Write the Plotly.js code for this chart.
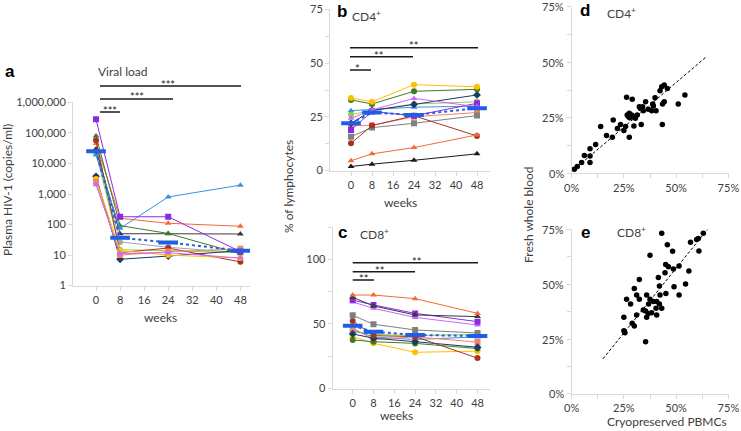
<!DOCTYPE html>
<html><head><meta charset="utf-8">
<script src="https://cdn.plot.ly/plotly-3.0.1.min.js"></script>
<style>html,body{margin:0;padding:0;background:#fff;overflow:hidden;} #chart{width:741px;height:431px;}</style>
</head><body><div id="chart"></div>
<script>
// ---------- DATA ----------
const weeks = [0, 8, 24, 48];
const weekTicks = [0, 8, 16, 24, 32, 40, 48];
const vlTickVals = [1, 10, 100, 1000, 10000, 100000, 1000000];
const vlTickText = ["1", "10", "100", "1,000", "10,000", "100,000", "1,000,000"];
const pctTicks = [0, 25, 50, 75];
const pctTickText = ["0%", "25%", "50%", "75%"];
const cd4Ticks = [0, 25, 50, 75];
const cd8Ticks = [0, 50, 100];

// Panel a: plasma HIV-1 (copies/ml)
const aPurple    = [280000, 180, 180, 13];
const aGreen     = [79000, 92, 51, 11];
const aDarkRed   = [58000, 12, 17, 6];
const aOrange    = [45000, 160, 110, 88];
const aBlack     = [30000, 50, 50, 49];
const aGray      = [26000, 27, 18, 12];
const aLime      = [22000, 15, 14, 12];
const aLightBlue = [19000, 75, 800, 1950];
const aNavy      = [3800, 7.3, 9.3, 14];
const aGold      = [3100, 14, 10, 8];
const aSalmon    = [2500, 10, 13, 16];
const aOrchid    = [2000, 11, 12, 8];
const aMedian    = [25000, 37, 26, 14];

// Panel b: CD4+ % of lymphocytes
const bGold      = [33.8, 32, 40, 39];
const bGreen     = [32.9, 31, 36.9, 37.8];
const bLightBlue = [27.9, 28.5, 29.5, 30];
const bLime      = [26, 28, 31, 32];
const bOrchid    = [24.3, 28.2, 33.6, 29.7];
const bNavy      = [22, 28, 30.8, 35.2];
const bSalmon    = [21, 21, 25.1, 27];
const bPurple    = [18.9, 27.5, 25.5, 31.3];
const bGray      = [15.8, 20, 22, 25.6];
const bDarkRed   = [12.7, 21, 25.5, 16.1];
const bOrange    = [4.6, 7.8, 10.7, 16.6];
const bBlack     = [1.9, 3, 4.8, 7.8];
const bMedian    = [22, 27, 25.9, 29];

// Panel c: CD8+ % of lymphocytes
const cOrange    = [72.4, 72.4, 69.6, 58.2];
const cBlack     = [70.6, 64, 57, 55.7];
const cPurple    = [68.5, 64.7, 58.2, 51.8];
const cOrchid    = [67, 62.1, 55.1, 49.2];
const cGray      = [56.7, 49.8, 45.4, 43];
const cDarkRed   = [52.3, 41, 40.2, 23.6];
const cSalmon    = [47, 38, 40, 36];
const cLightBlue = [45.4, 40, 38, 40];
const cLime      = [44, 42, 41, 42];
const cNavy      = [42.3, 39, 36.3, 32];
const cGold      = [40.2, 35.1, 28.1, 29];
const cGreen     = [37.6, 36.3, 35, 31];
const cMedian    = [48.7, 44, 41.5, 40.7];

// Panel d: CD4+ cryopreserved PBMCs (x) vs fresh whole blood (y), %
const dX = [1.3, 2.7, 4.8, 6.1, 8.8, 8.8, 8.8, 11.5, 13.9, 16.7, 19.5, 19.9, 21.9, 23.4, 25, 25.8, 26.3, 26.6, 27.1, 27.6, 27.6, 28.7, 29, 29.8, 29.8, 31.4, 32.4, 33, 33.3, 34, 34.3, 35.4, 36.7, 38.3, 38.8, 39.1, 39.9, 40.4, 42.3, 43.1, 43.5, 43.4, 44.3, 44.3, 45.8, 51, 54.2, 27.8, 32.8, 30.5];
const dY = [1.8, 3, 4.8, 8, 7.8, 11, 4.8, 12.9, 21, 17, 16.2, 24, 20.1, 21.9, 19.2, 21, 34.2, 26.2, 25.5, 27, 16.2, 26.2, 33.3, 25.5, 21.3, 26.2, 30, 29.2, 22, 30, 28.2, 32.2, 28.8, 28.2, 31.2, 30.3, 34, 28.2, 37.2, 39, 31.2, 22, 39.7, 32.2, 38.2, 31.2, 35.2, 25, 29.5, 24.8];
const dFitX = [1, 64.5];
const dFitY = [1.5, 52.5];

// Panel e: CD8+ cryopreserved PBMCs (x) vs fresh whole blood (y), %
const eX = [43.1, 45.8, 48.3, 37.5, 56.9, 59.8, 60.6, 63, 60.9, 45, 46.3, 48.7, 51.4, 56.1, 44.7, 41.5, 32.4, 42, 30, 49, 54.5, 51.4, 45.1, 42.3, 35.9, 31.1, 26.3, 32.4, 37.5, 28.2, 39.1, 40.7, 42, 36.8, 40.4, 43.1, 34.3, 35.4, 36.7, 38.3, 31.1, 40.7, 25, 35.9, 29, 30, 25, 25.5, 35.4];
const eY = [73.2, 68, 65, 63.2, 69.1, 70.4, 70.9, 73.2, 65.1, 59, 58, 57, 58.3, 56, 55.2, 53.1, 52.2, 49.2, 48.1, 48.9, 50.1, 45.1, 45.8, 45.1, 45.1, 45.1, 43.1, 43.1, 43.1, 41, 42.1, 42.1, 41, 41, 39, 39, 38.3, 37.8, 36.7, 37, 36, 36, 34.9, 34.9, 32.2, 31, 28.8, 27.9, 23.8];
const eFitX = [15, 65];
const eFitY = [16, 75];

// ---------- STYLE / LAYOUT HELPERS ----------
const W = 741, H = 431;
const PX = v => v / W;
const PY = v => 1 - v / H;
const FONT = "Lato, 'Open Sans', sans-serif";
const TXT = "#404040";
const AX = "#D9D9D9";

const C = {
  purple: "#8A2BE2", green: "#3A7D22", darkred: "#A93226", orange: "#F26B38",
  black: "#3A3A3A", gray: "#808080", lime: "#92D050", lightblue: "#3D8FE0",
  navy: "#1F3864", gold: "#FFC000", salmon: "#F4846E", orchid: "#CC66FF",
  median: "#1F5FE6"
};

function series(xa, ya, y, color, symbol, size) {
  return {
    type: "scatter", mode: "lines+markers", x: weeks, y: y, xaxis: xa, yaxis: ya,
    line: {color: color, width: 1}, marker: {color: color, symbol: symbol, size: size || 6},
    showlegend: false, hoverinfo: "skip"
  };
}
function median(xa, ya, y) {
  return {
    type: "scatter", mode: "lines+markers", x: weeks, y: y, xaxis: xa, yaxis: ya,
    line: {color: C.median, width: 2, dash: "dot"},
    marker: {symbol: "line-ew", size: 14, line: {color: C.median, width: 4}},
    showlegend: false, hoverinfo: "skip"
  };
}

const traces = [];
// a
[[aOrange, C.orange, "triangle-up"], [aGray, "#A6A6A6", "circle"], [aLime, C.lime, "circle"],
 [aBlack, C.black, "triangle-up"], [aGreen, C.green, "triangle-up"], [aDarkRed, C.darkred, "circle"],
 [aNavy, C.navy, "diamond"], [aGold, C.gold, "circle"], [aSalmon, C.salmon, "square"],
 [aOrchid, C.orchid, "triangle-up"], [aLightBlue, C.lightblue, "triangle-up"], [aPurple, C.purple, "square"]
].forEach(s => traces.push(series("x", "y", s[0], s[1], s[2])));
traces.push(median("x", "y", aMedian));
// b
[[bLime, C.lime, "circle"], [bLightBlue, C.lightblue, "triangle-up"], [bSalmon, C.salmon, "square"],
 [bGray, C.gray, "square"], [bDarkRed, C.darkred, "circle"], [bOrange, C.orange, "triangle-up"],
 [bBlack, "#1A1A1A", "triangle-up"], [bNavy, C.navy, "diamond"], [bPurple, C.purple, "square"],
 [bOrchid, C.orchid, "triangle-up"], [bGreen, C.green, "circle"], [bGold, C.gold, "circle"]
].forEach(s => traces.push(series("x2", "y2", s[0], s[1], s[2])));
traces.push(median("x2", "y2", bMedian));
// c
[[cLime, C.lime, "circle"], [cLightBlue, C.lightblue, "triangle-up"], [cSalmon, C.salmon, "square"],
 [cGold, C.gold, "circle"], [cGreen, C.green, "circle"], [cNavy, C.navy, "diamond"],
 [cDarkRed, C.darkred, "circle"], [cGray, C.gray, "square"], [cOrchid, C.orchid, "triangle-up"],
 [cPurple, C.purple, "square"], [cBlack, C.black, "triangle-up"], [cOrange, C.orange, "triangle-up"]
].forEach(s => traces.push(series("x3", "y3", s[0], s[1], s[2])));
traces.push(median("x3", "y3", cMedian));
// d, e
traces.push({type: "scatter", mode: "lines", x: dFitX, y: dFitY, xaxis: "x4", yaxis: "y4",
  line: {color: "#000", width: 1, dash: "3px,2px"}, showlegend: false, hoverinfo: "skip"});
traces.push({type: "scatter", mode: "markers", x: dX, y: dY, xaxis: "x4", yaxis: "y4",
  marker: {color: "#000", size: 5.5}, showlegend: false, hoverinfo: "skip"});
traces.push({type: "scatter", mode: "lines", x: eFitX, y: eFitY, xaxis: "x5", yaxis: "y5",
  line: {color: "#000", width: 1, dash: "3px,2px"}, showlegend: false, hoverinfo: "skip"});
traces.push({type: "scatter", mode: "markers", x: eX, y: eY, xaxis: "x5", yaxis: "y5",
  marker: {color: "#000", size: 5.5}, showlegend: false, hoverinfo: "skip"});

function axis(extra) {
  return Object.assign({
    showline: true, linecolor: AX, linewidth: 1, showgrid: false, zeroline: false,
    ticks: "outside", tickcolor: AX, ticklen: 4, tickfont: {family: FONT, size: 11, color: TXT},
    ticklabeloverflow: "allow", fixedrange: true
  }, extra);
}
const pctMinor = {dtick: 12.5, ticks: "outside", ticklen: 4, tickcolor: AX};

const layout = {
  width: W, height: H, margin: {l: 0, r: 0, t: 0, b: 0},
  paper_bgcolor: "#fff", plot_bgcolor: "rgba(0,0,0,0)", showlegend: false,
  font: {family: FONT, color: TXT},
  xaxis:  axis({domain: [PX(73), PX(250)], range: [-7.65, 51.2], anchor: "y", tickvals: weekTicks}),
  yaxis:  axis({domain: [PY(285.7), PY(102.3)], type: "log", range: [-0.002, 6.002], anchor: "x",
                tickvals: vlTickVals, ticktext: vlTickText}),
  xaxis2: axis({domain: [PX(330), PX(490)], range: [-8, 52.95], anchor: "y2", tickvals: weekTicks}),
  yaxis2: axis({domain: [PY(170.7), PY(9.3)], range: [-0.05, 75.05], anchor: "x2", tickvals: cd4Ticks,
                minor: pctMinor}),
  xaxis3: axis({domain: [PX(332.7), PX(490)], range: [-7.69, 52.8], anchor: "y3", tickvals: weekTicks}),
  yaxis3: axis({domain: [PY(388.7), PY(227)], range: [-0.05, 125], anchor: "x3", tickvals: cd8Ticks,
                minor: {dtick: 25, ticks: "outside", ticklen: 4, tickcolor: AX}}),
  xaxis4: axis({domain: [PX(571.5), PX(728.5)], range: [-0.05, 75.05], anchor: "y4", tickvals: pctTicks, ticktext: pctTickText,
                minor: pctMinor}),
  yaxis4: axis({domain: [PY(173.3), PY(6.7)], range: [-0.05, 75.05], anchor: "x4", showticklabels: false,
                tickvals: pctTicks, minor: pctMinor}),
  xaxis5: axis({domain: [PX(571.5), PX(728.5)], range: [-0.05, 75.05], anchor: "y5", tickvals: pctTicks, ticktext: pctTickText,
                minor: pctMinor}),
  yaxis5: axis({domain: [PY(394), PY(229.3)], range: [-0.05, 75.05], anchor: "x5", showticklabels: false,
                tickvals: pctTicks, minor: pctMinor}),
  shapes: [], annotations: []
};

function hline(x0, x1, y) {
  layout.shapes.push({type: "line", xref: "paper", yref: "paper", x0: PX(x0), x1: PX(x1), y0: PY(y), y1: PY(y),
    line: {color: "#1A1A1A", width: 1.5}});
}
function text(t, x, y, size, opts) {
  layout.annotations.push(Object.assign({text: t, xref: "paper", yref: "paper", x: PX(x), y: PY(y),
    xanchor: "center", yanchor: "middle", showarrow: false,
    font: {family: FONT, size: size, color: TXT}}, opts || {}));
}
const starFont = {family: FONT, size: 11, color: "#1A1A1A"};

// y tick labels of the scatter panels, on the panels' own y scale
pctTicks.forEach((v, i) => {
  ["4", "5"].forEach(n => {
    layout.annotations.push({text: pctTickText[i], xref: "x" + n + " domain", yref: "y" + n, x: 0, y: v,
      xanchor: "right", yanchor: "middle", xshift: -6, showarrow: false,
      font: {family: FONT, size: 11, color: TXT}});
  });
});

// significance bars
hline(100, 241, 86); hline(100, 173, 99); hline(100, 120, 112);
text("***", 168, 84, 11, {font: starFont});
text("***", 137, 97, 11, {font: starFont});
text("***", 110, 110, 11, {font: starFont});
hline(350, 478, 47.7); hline(350, 413, 56.7); hline(350, 371, 70);
text("**", 413, 46, 11, {font: starFont});
text("**", 378, 55, 11, {font: starFont});
text("*", 357, 68, 11, {font: starFont});
hline(352.7, 478, 262.7); hline(352.7, 415, 271.7); hline(352.7, 374, 280);
text("**", 416, 261, 11, {font: starFont});
text("**", 379, 270, 11, {font: starFont});
text("**", 363, 278, 11, {font: starFont});

// panel letters
const bold = s => ({family: "Liberation Sans, Arial, sans-serif", size: s, color: "#000"});
text("<b>a</b>", 10, 71, 17, {font: bold(17)});
text("<b>b</b>", 342, 12, 17, {font: bold(17)});
text("<b>c</b>", 342, 232, 17, {font: bold(17)});
text("<b>d</b>", 585, 10, 17, {font: bold(17)});
text("<b>e</b>", 585, 232, 17, {font: bold(17)});

// panel titles
text("Viral load", 122, 71, 12);
text("CD4<sup>+</sup>", 366, 16, 12);
text("CD8<sup>+</sup>", 374, 234, 12);
text("CD4<sup>+</sup>", 621, 13, 12);
text("CD8<sup>+</sup>", 631, 232, 12);

// axis titles
text("Plasma HIV-1 (copies/ml)", 7, 190, 12, {textangle: -90});
text("weeks", 160, 317, 12);
text("% of lymphocytes", 288, 187, 12, {textangle: -90});
text("weeks", 400, 202, 12);
text("weeks", 397, 415, 12);
text("Fresh whole blood", 528, 215, 12, {textangle: -90});
text("Cryopreserved PBMCs", 667, 421, 12);

Plotly.newPlot("chart", traces, layout, {staticPlot: true, displayModeBar: false});
</script>
</body></html>
